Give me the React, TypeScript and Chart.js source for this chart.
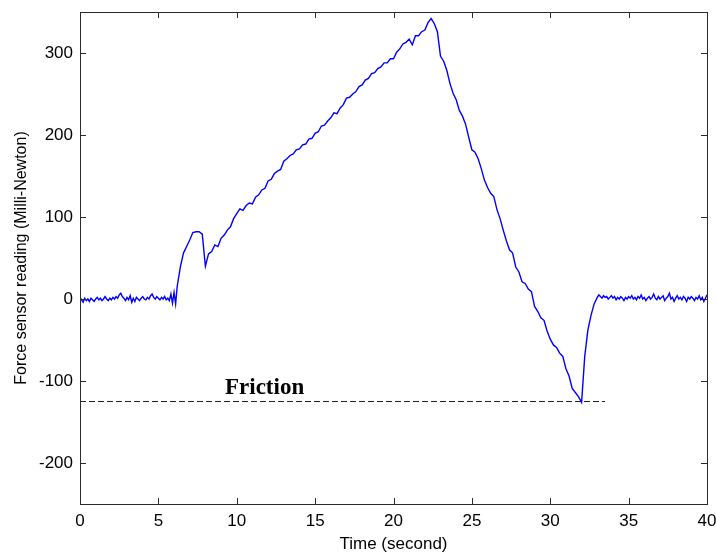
import { useEffect, useRef } from 'react';
import { Chart, registerables } from 'chart.js';

Chart.register(...registerables);

// Time samples (seconds)
const times = [
  0.0, 0.1, 0.2, 0.3, 0.4, 0.5, 0.6, 0.7, 0.8, 0.9,
  1.0, 1.1, 1.2, 1.3, 1.4, 1.5, 1.6, 1.7, 1.8, 1.9,
  2.0, 2.1, 2.2, 2.3, 2.4, 2.5, 2.6, 2.7, 2.8, 2.9,
  3.0, 3.1, 3.2, 3.3, 3.4, 3.5, 3.6, 3.7, 3.8, 3.9,
  4.0, 4.1, 4.2, 4.3, 4.4, 4.5, 4.6, 4.7, 4.8, 4.9,
  5.0, 5.1, 5.2, 5.3, 5.4, 5.5, 5.6, 5.7, 5.8, 5.9,
  6.0, 6.1, 6.2, 6.4, 6.6, 6.8, 7.0, 7.2, 7.4, 7.6, 7.8,
  8.0, 8.2, 8.4, 8.6, 8.8, 9.0, 9.2, 9.4, 9.6, 9.8,
  10.0, 10.2, 10.4, 10.6, 10.8, 11.0, 11.2, 11.4, 11.6, 11.8,
  12.0, 12.2, 12.4, 12.6, 12.8, 13.0, 13.2, 13.4, 13.6, 13.8,
  14.0, 14.2, 14.4, 14.6, 14.8, 15.0, 15.2, 15.4, 15.6, 15.8,
  16.0, 16.2, 16.4, 16.6, 16.8, 17.0, 17.2, 17.4, 17.6, 17.8,
  18.0, 18.2, 18.4, 18.6, 18.8, 19.0, 19.2, 19.4, 19.6, 19.8,
  20.0, 20.2, 20.4, 20.6, 20.8, 21.0, 21.2, 21.4, 21.6, 21.8,
  22.0, 22.2, 22.4, 22.6, 22.8, 23.0, 23.2, 23.4, 23.6, 23.8,
  24.0, 24.2, 24.4, 24.6, 24.8, 25.0, 25.2, 25.4, 25.6, 25.8,
  26.0, 26.2, 26.4, 26.6, 26.8, 27.0, 27.2, 27.4, 27.6, 27.8,
  28.0, 28.2, 28.4, 28.6, 28.8, 29.0, 29.2, 29.4, 29.6, 29.8,
  30.0, 30.2, 30.4, 30.6, 30.8, 31.0, 31.2, 31.4, 31.6, 31.8,
  32.0, 32.2, 32.4, 32.6, 32.8,
  33.0, 33.1, 33.2, 33.3, 33.4, 33.5, 33.6, 33.7, 33.8, 33.9,
  34.0, 34.1, 34.2, 34.3, 34.4, 34.5, 34.6, 34.7, 34.8, 34.9,
  35.0, 35.1, 35.2, 35.3, 35.4, 35.5, 35.6, 35.7, 35.8, 35.9,
  36.0, 36.1, 36.2, 36.3, 36.4, 36.5, 36.6, 36.7, 36.8, 36.9,
  37.0, 37.1, 37.2, 37.3, 37.4, 37.5, 37.6, 37.7, 37.8, 37.9,
  38.0, 38.1, 38.2, 38.3, 38.4, 38.5, 38.6, 38.7, 38.8, 38.9,
  39.0, 39.1, 39.2, 39.3, 39.4, 39.5, 39.6, 39.7, 39.8, 39.9,
  40.0,
];

// Force sensor reading (milli-Newton)
const force = [
  2, -1, -4, 1, -2, 0, -3, 1, -1, -3,
  0, 2, -1, 1, -2, 0, 3, 0, -2, 1,
  -1, 2, 0, 3, 1, 5, 7, 3, 1, -2,
  2, -1, 4, -4, 1, -3, 2, 0, -2, 1,
  3, 0, -1, 2, 0, 4, 6, 2, 0, 3,
  1, -1, 2, 0, 3, -1, 1, -2, 6, -5,
  8, -6, 15, 39, 56, 64, 72, 81, 82, 82, 79,
  40, 55, 58, 66, 64, 74, 78, 84, 88, 98,
  104, 110, 108, 114, 117, 116, 124, 127, 133, 135,
  144, 146, 153, 156, 158, 168, 171, 175, 177, 182,
  183, 188, 189, 195, 196, 202, 204, 211, 212, 217,
  221, 227, 226, 233, 237, 245, 246, 250, 253, 259,
  261, 267, 269, 275, 276, 281, 283, 288, 288, 293,
  293, 301, 305, 311, 313, 317, 310, 321, 321, 326,
  328, 337, 342, 336, 326, 296, 290, 279, 263, 251,
  243, 230, 223, 213, 197, 182, 179, 171, 159, 145,
  136, 129, 125, 109, 98, 84, 71, 60, 56, 39,
  33, 21, 19, 12, 9, -9, -15, -23, -26, -39,
  -49, -56, -59, -66, -70, -85, -94, -109, -114, -119,
  -126, -70, -38, -20, -6,
  2, 5, 3, 1, 4, 2, 3, 0, 2, 4,
  1, 3, -1, 2, 0, 3, 1, -2, 2, 0,
  3, 1, 4, 0, 2, -1, 3, 1, 5, 0,
  2, -2, 1, 3, 0, 2, 6, 1, -1, 3,
  0, 2, 4, -2, 1, 3, 7, 0, 2, -3,
  1, 4, 0, 2, -1, 3, 1, -3, 2, 0,
  3, 1, -2, 2, 0, 4, -1, 2, -3, 1,
  5,
];

const frictionLevel = -125;
const frictionStartTime = 0;
const frictionEndTime = 33.5;
const frictionLabel = 'Friction';
const frictionLabelTime = 9.25;
const frictionLabelValue = -116;

const xMin = 0;
const xMax = 40;
const xStep = 5;
const yMin = -250;
const yMax = 350;
const yTickValues = [-200, -100, 0, 100, 200, 300];

const xTitle = 'Time (second)';
const yTitle = 'Force sensor reading (Milli-Newton)';

const AXIS_COLOR = '#2b2b2b';
const TICK_LEN = 6;
const FONT_FAMILY = '"Liberation Sans", Arial, sans-serif';

const boxPlugin = {
  id: 'matlabBox',
  afterDraw(chart: any) {
    const { ctx, chartArea, scales } = chart;
    const { left, right, top, bottom } = chartArea;
    ctx.save();
    ctx.strokeStyle = AXIS_COLOR;
    ctx.lineWidth = 1;
    ctx.setLineDash([]);
    ctx.strokeRect(Math.round(left) + 0.5, Math.round(top) + 0.5, Math.round(right - left), Math.round(bottom - top));
    ctx.beginPath();
    for (const t of scales.x.ticks) {
      const px = Math.round(scales.x.getPixelForValue(t.value)) + 0.5;
      ctx.moveTo(px, bottom);
      ctx.lineTo(px, bottom - TICK_LEN);
      ctx.moveTo(px, top);
      ctx.lineTo(px, top + TICK_LEN);
    }
    for (const t of scales.y.ticks) {
      const py = Math.round(scales.y.getPixelForValue(t.value)) + 0.5;
      ctx.moveTo(left, py);
      ctx.lineTo(left + TICK_LEN, py);
      ctx.moveTo(right, py);
      ctx.lineTo(right - TICK_LEN, py);
    }
    ctx.stroke();

    // Friction annotation
    ctx.fillStyle = '#000';
    ctx.font = 'bold 23px "Liberation Serif", "Times New Roman", serif';
    ctx.textAlign = 'left';
    ctx.textBaseline = 'alphabetic';
    ctx.fillText(
      frictionLabel,
      scales.x.getPixelForValue(frictionLabelTime),
      scales.y.getPixelForValue(frictionLabelValue)
    );
    ctx.restore();
  },
};

export default function App() {
  const canvasRef = useRef<HTMLCanvasElement | null>(null);

  useEffect(() => {
    const canvas = canvasRef.current;
    if (!canvas) return;
    const forcePoints = times.map((t, i) => ({ x: t, y: force[i] }));
    const frictionPoints = [
      { x: frictionStartTime, y: frictionLevel },
      { x: frictionEndTime, y: frictionLevel },
    ];
    const chart = new Chart(canvas, {
      type: 'line',
      data: {
        datasets: [
          {
            data: forcePoints,
            borderColor: 'rgb(0,0,255)',
            borderWidth: 1.4,
            pointRadius: 0,
            tension: 0,
            fill: false,
          },
          {
            data: frictionPoints,
            borderColor: '#222',
            borderWidth: 1,
            borderDash: [6, 3],
            pointRadius: 0,
            fill: false,
          },
        ],
      },
      options: {
        responsive: false,
        animation: false,
        devicePixelRatio: 1,
        layout: { padding: { top: 12, right: 9, bottom: 0, left: 0 } },
        plugins: {
          legend: { display: false },
          tooltip: { enabled: false },
        },
        scales: {
          x: {
            type: 'linear',
            min: xMin,
            max: xMax,
            grid: { display: false, drawTicks: false },
            border: { display: false },
            ticks: {
              stepSize: xStep,
              color: '#000',
              padding: 7,
              font: { family: FONT_FAMILY, size: 17 },
            },
            title: {
              display: true,
              text: xTitle,
              color: '#000',
              padding: { top: 0, bottom: 0 },
              font: { family: FONT_FAMILY, size: 17 },
            },
            afterFit(scale: any) {
              scale.height = 51;
              scale.paddingLeft = 0;
              scale.paddingRight = 0;
            },
          },
          y: {
            type: 'linear',
            min: yMin,
            max: yMax,
            grid: { display: false, drawTicks: false },
            border: { display: false },
            afterBuildTicks(scale: any) {
              scale.ticks = yTickValues.map((v) => ({ value: v }));
            },
            ticks: {
              color: '#000',
              padding: 7,
              font: { family: FONT_FAMILY, size: 17 },
            },
            title: {
              display: true,
              text: yTitle,
              color: '#000',
              padding: { top: 12, bottom: 0 },
              font: { family: FONT_FAMILY, size: 16 },
            },
            afterFit(scale: any) {
              scale.width = 80;
              scale.paddingTop = 0;
              scale.paddingBottom = 0;
            },
          },
        },
      },
      plugins: [boxPlugin],
    });
    return () => chart.destroy();
  }, []);

  return (
    <div style={{ position: 'fixed', left: 0, top: 0, width: 716, height: 555, background: '#fff' }}>
      <canvas ref={canvasRef} width={716} height={555} />
    </div>
  );
}
